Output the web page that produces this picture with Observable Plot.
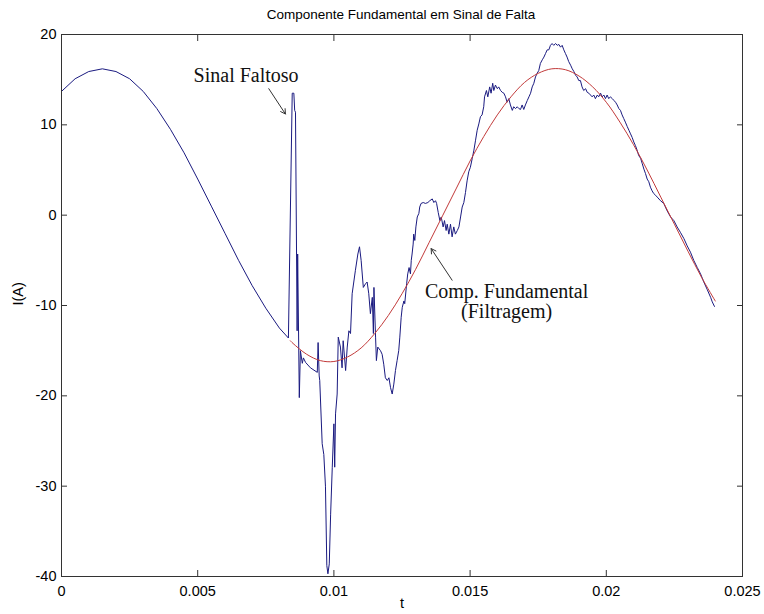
<!DOCTYPE html>
<html><head><meta charset="utf-8">
<script src="https://cdn.jsdelivr.net/npm/d3@7"></script>
<script src="https://cdn.jsdelivr.net/npm/@observablehq/plot@0.6"></script>
<style>
body{margin:0;background:#fff;width:764px;height:614px;overflow:hidden}
#title{height:28px;padding-top:7px;line-height:21px;text-align:center;font:13.5px "Liberation Sans",Arial,sans-serif;color:#000;padding-left:38px;box-sizing:border-box;width:764px}
</style></head><body>
<div id="title">Componente Fundamental em Sinal de Falta</div>
<div id="chart"></div>
<script>
// Sinal faltoso (blue), t in seconds, I in A
const tBlue = [0,0.0005,0.001,0.0015,0.002,0.0025,0.003,0.0035,0.004,0.0045,0.005,0.0055,0.006,0.0065,0.007,0.0075,0.008,0.00833,
0.00847,0.00853,0.00856,0.00859,0.00865,0.00867,0.00873,0.00877,0.00884,0.00888,0.00896,0.00914,0.00939,0.00942,0.00946,0.00948,
0.00957,0.00963,0.00969,0.00974,0.00978,0.00983,0.00988,0.00994,0.01000,0.01003,0.01006,0.01012,0.01016,0.01024,0.01030,0.01034,
0.01043,0.01049,0.01055,0.01061,0.01067,0.01079,0.01088,0.01094,0.01100,0.01108,0.01116,0.01122,0.01128,0.01134,0.01141,0.01145,
0.01147,0.01153,0.01156,0.01161,0.01171,0.01177,0.01183,0.01189,0.01196,0.01202,0.01208,0.01214,0.01220,0.01226,0.01232,0.01238,
0.01242,0.01247,0.01251,0.01257,0.01260,0.01267,0.01271,0.01276,0.01281,0.01284,0.01287,0.01291,0.01293,0.01297,0.01301,0.01306,
0.01312,0.01315,0.01320,0.01328,0.01336,0.01345,0.01352,0.01361,0.01367,0.01373,0.01377,0.01383,0.01389,0.01394,0.01401,0.01406,
0.01412,0.01416,0.01422,0.01428,0.01434,0.01440,0.01446,0.01453,0.01459,0.01465,0.01471,0.01477,0.01483,0.01489,0.01495,0.01501,
0.01508,0.01514,0.01520,0.01526,0.01532,0.01538,0.01544,0.01550,0.01553,0.01560,0.01565,0.01572,0.01577,0.01583,0.01587,0.01593,
0.01600,0.01605,0.01612,0.01618,0.01624,0.01630,0.01636,0.01642,0.01648,0.01655,0.01660,0.01667,0.01673,0.01679,0.01685,0.01691,
0.01697,0.01703,0.01710,0.01716,0.01722,0.01728,0.01734,0.01740,0.01746,0.01752,0.01758,0.01765,0.01771,0.01777,0.01783,0.01789,
0.01795,0.01801,0.01807,0.01814,0.01820,0.01826,0.01832,0.01838,0.01844,0.01850,0.01856,0.01862,0.01869,0.01875,0.01881,0.01887,
0.01893,0.01899,0.01905,0.01911,0.01917,0.01924,0.01930,0.01936,0.01942,0.01948,0.01954,0.01960,0.01967,0.01972,0.01979,0.01985,
0.01991,0.01997,0.02003,0.02009,0.02015,0.02022,0.02028,0.02034,0.02040,0.02046,0.02052,0.02058,0.02064,0.02070,0.02077,0.02083,
0.02089,0.02095,0.02101,0.02107,0.02113,0.02119,0.02126,0.02132,0.02138,0.02144,0.02150,0.02156,0.02162,0.02168,0.02174,0.02181,
0.02187,0.02199,0.02211,0.02223,0.02236,0.02248,0.02260,0.02272,0.02285,0.02297,0.02309,0.02321,0.02334,0.02346,0.02358,0.02370,
0.02383,0.02389,0.02397];
const iBlue = [13.7,15.1,15.9,16.2,15.9,15.1,13.7,11.8,9.5,6.9,4.0,1.0,-2.0,-5.0,-7.8,-10.3,-12.5,-13.6,
13.5,13.5,11.6,11.4,-12.8,-4.3,-20.2,-15.0,-16.4,-15.8,-16.3,-16.9,-17.4,-14.1,-17.8,-18.3,
-25.3,-26.5,-30.0,-38.8,-39.7,-38.6,-33.1,-27.9,-23.1,-27.9,-22.0,-19.8,-13.5,-14.6,-16.9,-13.9,
-17.2,-14.6,-12.8,-13.1,-8.7,-6.1,-4.3,-3.5,-5.0,-8.0,-7.6,-7.4,-8.7,-10.9,-9.1,-13.1,
-8.0,-13.5,-16.1,-14.6,-15.0,-15.4,-16.5,-18.0,-18.3,-18.0,-19.1,-19.8,-18.7,-17.2,-16.1,-15.0,
-13.5,-11.3,-10.2,-9.5,-9.8,-7.6,-6.5,-5.8,-6.5,-5.0,-4.3,-3.2,-2.1,-2.8,-1.3,-0.2,
0.2,0.9,1.3,1.4,1.3,1.4,1.6,1.8,1.4,1.6,1.3,0.3,-0.6,-0.2,-1.3,-0.6,
-1.7,-1.0,-2.1,-1.0,-2.4,-1.3,-2.1,-1.7,-1.3,-0.2,0.9,1.4,2.5,3.8,4.8,5.3,
6.3,7.2,8.3,9.4,10.1,10.9,11.1,12.0,13.1,13.8,13.1,14.2,13.5,14.6,13.8,14.4,
14.0,14.2,13.8,13.6,13.5,13.1,12.5,12.9,12.2,11.6,12.0,11.8,12.0,11.8,11.7,12.2,
11.7,12.2,12.7,13.1,13.5,14.2,14.6,15.3,15.7,16.0,16.8,17.2,17.5,17.9,18.3,18.3,
18.8,19.0,18.8,19.0,18.8,18.9,18.6,18.8,18.3,17.9,17.5,17.0,16.6,16.2,15.9,15.5,
15.3,14.9,14.9,14.2,13.8,14.0,13.6,13.5,13.3,13.1,13.3,12.9,13.3,13.1,13.5,13.1,
13.3,12.9,13.3,12.9,13.1,12.9,12.7,12.5,12.2,11.8,11.6,11.1,10.7,10.3,9.8,9.4,
9.0,8.6,8.1,7.7,7.2,6.6,6.3,5.7,5.1,4.6,4.0,3.7,3.1,2.7,2.4,2.2,
2.0,1.6,1.3,0.5,-0.2,-0.6,-1.3,-1.9,-2.6,-3.4,-4.1,-5.0,-5.8,-6.5,-7.4,-8.2,
-9.1,-9.6,-10.1];

// Componente fundamental (red)
const tRed = [0.0084,0.0085,0.009,0.0095,0.01,0.0105,0.011,0.0115,0.012,0.0125,0.013,0.0135,0.014,0.0145,0.015,0.0155,0.016,
0.0165,0.017,0.0175,0.018,0.0185,0.019,0.0195,0.02,0.0205,0.021,0.0215,0.022,0.0225,0.023,0.0235,0.024];
const iRed = [-13.9,-14.2,-15.4,-16.1,-16.2,-15.7,-14.7,-13.1,-11.1,-8.7,-6.0,-3.0,0.0,3.0,6.0,8.7,11.1,
13.1,14.7,15.7,16.2,16.1,15.4,14.2,12.5,10.3,7.8,5.0,2.0,-1.0,-4.0,-6.9,-9.5];

// Ticks
const xTicks = [0, 0.005, 0.01, 0.015, 0.02, 0.025];
const yTicks = [-40, -30, -20, -10, 0, 10, 20];

// Annotations
const noteText = ["Sinal Faltoso", "Comp. Fundamental\n(Filtragem)"];
const noteT = [0.00485, 0.01634];
const noteI = [15.5, -9.6];
const arrowT1 = [0.00761, 0.01434];
const arrowI1 = [14.0, -7.2];
const arrowT2 = [0.00822, 0.01357];
const arrowI2 = [11.2, -3.7];

const blue = tBlue.map((t, i) => ({t, v: iBlue[i]}));
const red = tRed.map((t, i) => ({t, v: iRed[i]}));
const fmt = d => String(d);
const serif = '"Liberation Serif", "Times New Roman", serif';

const chart = Plot.plot({
  width: 764, height: 586,
  marginTop: 6, marginBottom: 38, marginLeft: 61, marginRight: 22,
  style: {fontFamily: '"Liberation Sans", Arial, sans-serif', fontSize: "14.5px", background: "#fff", color: "#000", overflow: "visible"},
  x: {domain: [0, 0.025], label: null},
  y: {domain: [-40, 20], label: null},
  marks: [
    Plot.line(blue, {x: "t", y: "v", stroke: "#1a1a80", strokeWidth: 1}),
    Plot.line(red, {x: "t", y: "v", stroke: "#c23a3a", strokeWidth: 1, curve: "catmull-rom"}),
    Plot.frame({stroke: "#333"}),
    Plot.axisX({anchor: "bottom", ticks: xTicks, tickFormat: fmt, tickSize: -6, tickPadding: 15, stroke: "#333", label: null}),
    Plot.axisX({anchor: "top", ticks: xTicks, tickFormat: () => "", tickSize: -6, stroke: "#333", label: null}),
    Plot.axisY({anchor: "left", ticks: yTicks, tickFormat: fmt, tickSize: -6, tickPadding: 11, stroke: "#333", label: null}),
    Plot.axisY({anchor: "right", ticks: yTicks, tickFormat: () => "", tickSize: -6, stroke: "#333", label: null}),
    Plot.text(["t"], {frameAnchor: "bottom", dy: 31, fontSize: 14.5}),
    Plot.text(["I(A)"], {frameAnchor: "left", rotate: -90, dx: -43, fontSize: 14.5}),
    Plot.text([noteText[0]], {x: [noteT[0]], y: [noteI[0]], textAnchor: "start", fontFamily: serif, fontSize: 20, fill: "#111"}),
    Plot.text([noteText[1]], {x: [noteT[1]], y: [noteI[1]], textAnchor: "middle", fontFamily: serif, fontSize: 20, lineHeight: 1.0, fill: "#111"}),
    Plot.arrow(arrowT1, {x1: arrowT1, y1: arrowI1, x2: arrowT2, y2: arrowI2, stroke: "#333", strokeWidth: 1, headLength: 8})
  ]
});
document.getElementById("chart").appendChild(chart);
</script></body></html>
